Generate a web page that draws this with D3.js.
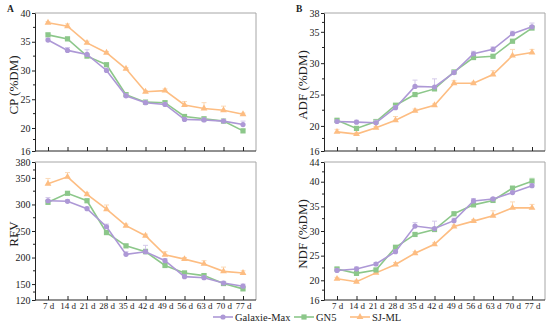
<!DOCTYPE html>
<html>
<head>
<meta charset="utf-8">
<script src="https://cdn.jsdelivr.net/npm/d3@7"></script>
<style>
body { margin: 0; background: #fff; }
svg { font-family: "Liberation Serif", "Times New Roman", serif; }
</style>
</head>
<body>
<svg width="550" height="327"></svg>
<script>
var days = ['7 d', '14 d', '21 d', '28 d', '35 d', '42 d', '49 d', '56 d', '63 d', '70 d', '77 d'];
var seriesNames = ['Galaxie-Max', 'GN5', 'SJ-ML'];

var cpGalaxie = [35.3, 33.5, 32.8, 30.0, 25.6, 24.4, 24.1, 21.5, 21.4, 21.2, 20.6];
var cpGN5 = [36.2, 35.5, 32.5, 31.0, 25.8, 24.5, 24.4, 22.0, 21.6, 21.2, 19.5];
var cpSJ = [38.3, 37.7, 34.8, 33.1, 30.3, 26.3, 26.5, 24.0, 23.4, 23.1, 22.4];
var cpErrGalaxie = [0.3, 0.5, 0.8, 0.4, 0.3, 0.3, 0.3, 0.3, 0.3, 0.3, 0.6];
var cpErrGN5 = [0.3, 0.3, 0.3, 0.3, 0.3, 0.3, 0.3, 0.3, 0.3, 0.3, 0.3];
var cpErrSJ = [0.2, 0.4, 0.3, 0.2, 0.2, 0.2, 0.3, 0.6, 1.0, 0.7, 0.2];

var rfvGalaxie = [307, 306, 292, 258, 206, 211, 194, 164, 162, 152, 146];
var rfvGN5 = [304, 321, 307, 247, 222, 211, 185, 171, 166, 151, 141];
var rfvSJ = [339, 352, 319, 291, 260, 241, 205, 197, 188, 174, 171];
var rfvErrGalaxie = [6, 3, 3, 5, 5, 12, 4, 3, 3, 3, 4];
var rfvErrGN5 = [3, 3, 3, 3, 3, 5, 3, 3, 3, 3, 3];
var rfvErrSJ = [10, 8, 3, 8, 3, 3, 6, 3, 6, 8, 4];

var adfGalaxie = [20.7, 20.6, 20.5, 22.9, 26.3, 26.2, 28.5, 31.5, 32.2, 34.7, 35.8];
var adfGN5 = [20.9, 19.6, 20.7, 23.3, 25.0, 25.9, 28.6, 30.9, 31.1, 33.5, 35.6];
var adfSJ = [19.05, 18.7, 19.7, 20.9, 22.4, 23.3, 26.8, 26.8, 28.2, 31.2, 31.7];
var adfErrGalaxie = [0.2, 0.3, 0.4, 0.3, 1.0, 1.3, 0.3, 0.4, 0.4, 0.4, 0.6];
var adfErrGN5 = [0.2, 0.2, 0.3, 0.2, 0.2, 0.2, 0.2, 0.2, 0.2, 0.2, 0.2];
var adfErrSJ = [0.4, 0.2, 0.2, 0.6, 0.3, 0.2, 0.4, 0.2, 0.6, 1.0, 0.5];

var ndfGalaxie = [22.0, 22.3, 23.3, 25.8, 31.0, 30.5, 32.1, 36.1, 36.5, 37.8, 39.2];
var ndfGN5 = [22.3, 21.4, 22.1, 26.7, 29.3, 30.3, 33.5, 35.3, 36.2, 38.7, 40.1];
var ndfSJ = [20.3, 19.7, 21.5, 23.2, 25.5, 27.3, 30.9, 32.0, 33.1, 34.7, 34.7];
var ndfErrGalaxie = [0.3, 0.4, 0.3, 0.3, 0.7, 1.5, 0.5, 0.5, 0.3, 0.3, 0.4];
var ndfErrGN5 = [0.3, 0.3, 0.3, 0.3, 0.3, 0.3, 0.3, 0.3, 0.3, 0.3, 0.6];
var ndfErrSJ = [0.3, 0.3, 0.3, 0.4, 0.3, 0.3, 0.3, 0.3, 1.0, 1.2, 0.7];

var cpTicks = [16, 20, 25, 30, 35, 40];
var rfvTicks = [120, 150, 200, 250, 300, 350, 380];
var adfTicks = [16, 20, 25, 30, 35, 38];
var ndfTicks = [16, 20, 25, 30, 35, 40, 44];

var colors = ['#ad98d6', '#8cc78a', '#fdbd82'];
var errColors = ['#d4c9ea', '#c3e2c2', '#fbd9b6'];

var svg = d3.select('svg');

var panels = [
    {x0: 35, x1: 256, y0: 13, y1: 151, dom: [16, 40], ticks: cpTicks, minor: [18, 22.5, 27.5, 32.5, 37.5],
     title: 'CP (%DM)', vals: [cpGalaxie, cpGN5, cpSJ], errs: [cpErrGalaxie, cpErrGN5, cpErrSJ], xlab: false, letter: 'A'},
    {x0: 35, x1: 256, y0: 162, y1: 300, dom: [120, 380], ticks: rfvTicks, minor: [135, 175, 225, 275, 325, 365],
     title: 'RFV', vals: [rfvGalaxie, rfvGN5, rfvSJ], errs: [rfvErrGalaxie, rfvErrGN5, rfvErrSJ], xlab: true},
    {x0: 324, x1: 545, y0: 13, y1: 151, dom: [16, 38], ticks: adfTicks, minor: [18, 22.5, 27.5, 32.5, 36.5],
     title: 'ADF (%DM)', vals: [adfGalaxie, adfGN5, adfSJ], errs: [adfErrGalaxie, adfErrGN5, adfErrSJ], xlab: false, letter: 'B'},
    {x0: 324, x1: 545, y0: 162, y1: 300, dom: [16, 44], ticks: ndfTicks, minor: [18, 22.5, 27.5, 32.5, 37.5, 42],
     title: 'NDF (%DM)', vals: [ndfGalaxie, ndfGN5, ndfSJ], errs: [ndfErrGalaxie, ndfErrGN5, ndfErrSJ], xlab: true}
];

function marker(g, k, x, y) {
    if (k == 0) {
        g.append('circle').attr('cx', x).attr('cy', y).attr('r', 2.6).attr('fill', colors[k]);
    } else if (k == 1) {
        g.append('rect').attr('x', x - 2.6).attr('y', y - 2.6).attr('width', 5.2).attr('height', 5.2).attr('fill', colors[k]);
    } else {
        g.append('path').attr('d', d3.symbol(d3.symbolTriangle, 20)()).attr('transform', 'translate(' + x + ',' + y + ')').attr('fill', colors[k]);
    }
}

panels.forEach(function(p) {
    var x = d3.scalePoint().domain(days).range([p.x0 + 13, p.x1 - 13]);
    var y = d3.scaleLinear().domain(p.dom).range([p.y1, p.y0]);
    var g = svg.append('g');

    // frame: top and right in grey
    g.append('path').attr('d', 'M' + p.x0 + ',' + p.y0 + 'H' + p.x1 + 'V' + p.y1)
        .attr('fill', 'none').attr('stroke', '#a6a6a6').attr('stroke-width', 1);

    var ya = g.append('g').attr('transform', 'translate(' + p.x0 + ',0)')
        .call(d3.axisLeft(y).tickValues(p.ticks).tickSize(3).tickSizeOuter(0).tickFormat(d3.format('d')));
    ya.select('.domain').attr('stroke', '#222');
    ya.selectAll('.tick line').attr('stroke', '#222');
    ya.selectAll('text').attr('font-size', 10).attr('font-family', 'Liberation Serif').attr('fill', '#222').attr('dx', '0.15em');
    g.selectAll('.minor').data(p.minor).enter().append('line')
        .attr('x1', p.x0 - 2).attr('x2', p.x0).attr('y1', function(d) { return y(d); }).attr('y2', function(d) { return y(d); })
        .attr('stroke', '#222');

    var xa = g.append('g').attr('transform', 'translate(0,' + p.y1 + ')')
        .call(d3.axisBottom(x).tickSize(-4).tickSizeOuter(0).tickPadding(3));
    xa.select('.domain').attr('d', 'M' + p.x0 + ',0H' + p.x1).attr('stroke', '#222');
    xa.selectAll('.tick line').attr('stroke', '#222');
    xa.selectAll('text').attr('font-size', 9).attr('font-family', 'Liberation Serif').attr('fill', '#222');
    if (!p.xlab) xa.selectAll('text').remove();

    svg.append('text')
        .attr('transform', 'translate(' + (p.x0 - 17) + ',' + ((p.y0 + p.y1) / 2 + 3) + ') rotate(-90)')
        .attr('text-anchor', 'middle').attr('font-size', 13).attr('fill', '#222').text(p.title);

    if (p.letter) {
        svg.append('text').attr('x', p.x0 - 28).attr('y', 12).attr('font-size', 9.5)
            .attr('font-weight', 'bold').attr('fill', '#222').text(p.letter);
    }

    [2, 1, 0].forEach(function(k) {
        var vals = p.vals[k], errs = p.errs[k];
        var s = g.append('g');
        vals.forEach(function(v, i) {
            var cx = x(days[i]), top = y(v + errs[i]);
            s.append('line').attr('x1', cx).attr('x2', cx).attr('y1', y(v)).attr('y2', top)
                .attr('stroke', errColors[k]).attr('stroke-width', 1);
            s.append('line').attr('x1', cx - 2.5).attr('x2', cx + 2.5).attr('y1', top).attr('y2', top)
                .attr('stroke', errColors[k]).attr('stroke-width', 1);
        });
        s.append('path').datum(vals)
            .attr('d', d3.line().x(function(d, i) { return x(days[i]); }).y(function(d) { return y(d); }))
            .attr('fill', 'none').attr('stroke', colors[k]).attr('stroke-width', 1.6);
        vals.forEach(function(v, i) { marker(s, k, x(days[i]), y(v)); });
    });
});

// legend
var legX = [213, 294, 350];
var leg = svg.append('g');
seriesNames.forEach(function(name, k) {
    var lx = legX[k], ly = 317;
    leg.append('line').attr('x1', lx).attr('x2', lx + 20).attr('y1', ly).attr('y2', ly)
        .attr('stroke', colors[k]).attr('stroke-width', 1.6);
    marker(leg, k, lx + 10, ly);
    leg.append('text').attr('x', lx + 22).attr('y', ly + 3.5).attr('font-size', 10.5).attr('fill', '#222').text(name);
});
</script>
</body>
</html>
